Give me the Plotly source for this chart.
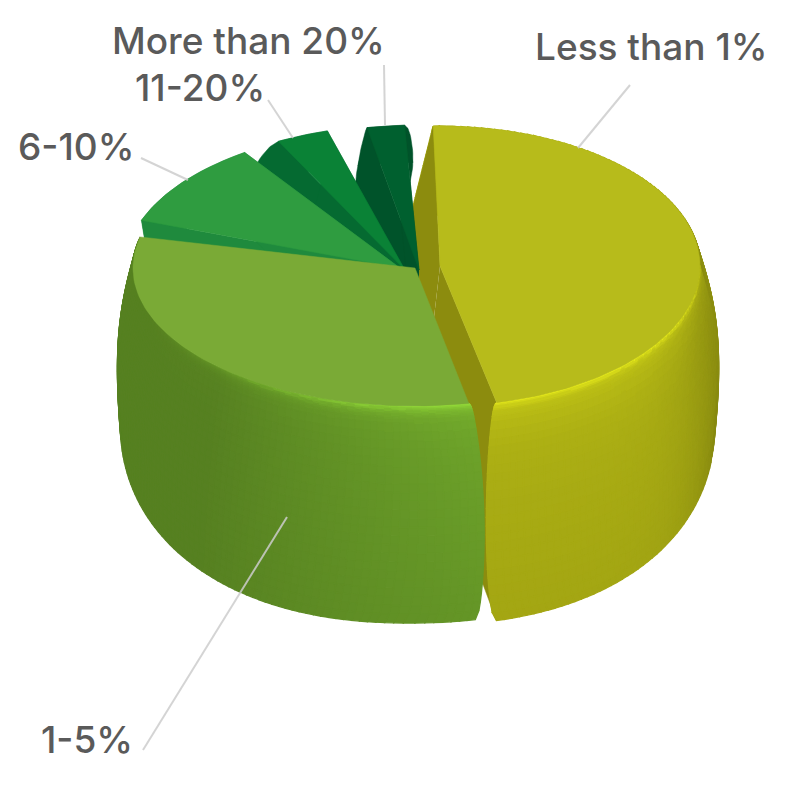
import numpy as np
import plotly.graph_objects as go

# chart data (percent of respondents)
labels = ["Less than 1%", "1-5%", "6-10%", "11-20%", "More than 20%"]
values = [46.5, 32.5, 12, 5, 4]

# look of each slice: top colour, cut face colour
top_colors = ["#b7bb1b", "#7aaa36", "#2f9c40", "#0a8236", "#00602f"]
cut_colors = ["#8c8c0e", "#5a8627", "#1f8a3d", "#056a31", "#00532a"]

# perspective of each slice: centre + radii at the top and bottom of the wall
top_cx = [440, 415, 400, 405, 419]
top_cy = [266, 268, 268, 270, 270]
top_rx = [260, 282, 275, 275, 275]
top_ry = [140, 138, 140, 145, 145]
bot_cx = [422, 410, 400, 405, 419]
bot_cy = [420, 418, 400, 400, 400]
bot_rx = [293, 290, 255, 285, 285]
bot_ry = [205, 205, 200, 200, 200]
bulge = [10, 8, 0, 6, 6]
# small angle gaps in degrees at both ends of a slice
pad_start = [-1.5, 1.6, 5.5, 5, 3.5]
pad_end = [0, 1.4, 2, 2, 3]
# how far the wall swells past those ends half way down
swell_start = [0, 2, 0, 5, 0.5]
swell_end = [2.4, 0, 0, 1, 2]

# label text position and leader line
label_x = [533, 39, 16, 133, 110]
label_y = [46, 739, 146, 87, 40]
leader_x = [[630, 578], [143, 287], [141, 188], [268, 293], [384, 385]]
leader_y = [[85, 148], [750, 517], [158, 180], [100, 138], [65, 125]]

text_color = "#5a5a5a"
leader_color = "rgba(205,205,205,0.85)"

fractions = np.array(values) / sum(values)
edges = np.concatenate([[0], np.cumsum(fractions) * 360])


def ring(i, theta, t):
    # point on the wall of slice i, theta clockwise from the back, t 0 top - 1 bottom
    a = np.radians(theta)
    p = 1 - 0.1 * t
    s = np.sign(np.sin(a)) * np.abs(np.sin(a)) ** p
    c = np.sign(np.cos(a)) * np.abs(np.cos(a)) ** p
    cx = top_cx[i] + (bot_cx[i] - top_cx[i]) * t
    cy = top_cy[i] + (bot_cy[i] - top_cy[i]) * t
    rx = top_rx[i] + (bot_rx[i] - top_rx[i]) * t + bulge[i] * np.sin(np.pi * t)
    ry = top_ry[i] + (bot_ry[i] - top_ry[i]) * t
    return cx + rx * s, cy - ry * c


def wall_point(i, u, t, start, end):
    # u runs 0-1 across the slice, the ends swell out with t
    sw = np.sqrt(np.abs(np.sin(np.pi * t)))
    a0 = start - swell_start[i] * sw
    a1 = end + swell_end[i] * sw
    return ring(i, a0 + (a1 - a0) * u, t)


def shade(i, theta, t):
    # brightness of the wall
    a = np.radians(theta)
    if i == 0:
        edge = abs(np.sin(a)) ** 10
        fade = np.clip((theta - 65) / 45, 0, 1)
        rim = np.exp(-t / 0.012) * 0.32 * fade + np.exp(-t / 0.12) * 0.12
        return [172, 175, 20], 1 + rim - 0.17 * edge - 0.05 * t
    fade = np.clip((250 - theta) / 70, 0, 1)
    light = np.clip((225 - theta) / 55, 0, 1)
    rim = np.exp(-t / 0.02) * 0.45 * fade + np.exp(-t / 0.1) * 0.1 * fade
    return [86, 128, 33], 1 + 0.28 * light * (1 - 0.4 * t) + rim


def polygon(x, y, color, width=0.5):
    return go.Scatter(x=x, y=y, mode="lines", fill="toself", fillcolor=color,
                      line=dict(color=color, width=width), hoverinfo="skip", showlegend=False)


fig = go.Figure()
t_grid = np.concatenate([np.linspace(0, 0.06, 9), np.linspace(0.08, 1, 24)])
t_wall = np.linspace(0, 1, 25)

# back to front
for i in [0, 4, 3, 2, 1]:
    start = edges[i] + pad_start[i]
    end = edges[i + 1] - pad_end[i]
    angles = np.linspace(start, end, int((end - start) / 1.5) + 2)
    u_grid = (angles - start) / (end - start)

    back = {}
    front = {}
    if i in (0, 1):
        # the wall is split in cells, one trace per shade
        for u0, u1 in zip(u_grid[:-1], u_grid[1:]):
            mid = start + (end - start) * (u0 + u1) / 2
            is_back = mid < 90 or mid > 270
            for t0, t1 in zip(t_grid[:-1], t_grid[1:]):
                base, b = shade(i, mid, 0.5 if is_back else (t0 + t1) / 2)
                rgb = [int(min(255, round(v * b))) for v in base]
                key = "rgb(%d,%d,%d)" % tuple(rgb)
                x0, y0 = wall_point(i, u0, t0, start, end)
                x1, y1 = wall_point(i, u1, t0, start, end)
                x2, y2 = wall_point(i, u1, t1, start, end)
                x3, y3 = wall_point(i, u0, t1, start, end)
                c = (back if is_back else front).setdefault(key, ([], []))
                c[0].extend([x0, x1, x2, x3, x0, None])
                c[1].extend([y0, y1, y2, y3, y0, None])
    else:
        pts_top = [wall_point(i, u, 0, start, end) for u in u_grid]
        pts_mid = [wall_point(i, u, 0.5, start, end) for u in u_grid[::-1]]
        fig.add_trace(polygon([p[0] for p in pts_top + pts_mid],
                              [p[1] for p in pts_top + pts_mid], cut_colors[i]))

    for key, (x, y) in back.items():
        fig.add_trace(polygon(x, y, key, 1.3))

    if i != 1:
        # cut faces, running from the axis out to the rim and down the wall
        for u in [0, 1]:
            pts = [wall_point(i, u, t, start, end) for t in t_wall]
            x = [top_cx[i]] + [p[0] for p in pts] + [bot_cx[i]]
            y = [top_cy[i]] + [p[1] for p in pts] + [bot_cy[i]]
            fig.add_trace(polygon(x, y, cut_colors[i]))

    for key, (x, y) in front.items():
        fig.add_trace(polygon(x, y, key, 1.3))

    # top face
    xs, ys = ring(i, angles, 0)
    fig.add_trace(polygon([top_cx[i]] + list(xs) + [top_cx[i]],
                          [top_cy[i]] + list(ys) + [top_cy[i]], top_colors[i]))

for i, name in enumerate(labels):
    fig.add_trace(go.Scatter(x=leader_x[i], y=leader_y[i], mode="lines",
                             line=dict(color=leader_color, width=2),
                             hoverinfo="skip", showlegend=False))
    fig.add_annotation(x=label_x[i], y=label_y[i], text=name, showarrow=False,
                       xanchor="left", yanchor="middle",
                       font=dict(family="Inter", size=37, weight=500, color=text_color))

fig.update_xaxes(range=[0, 800], visible=False, fixedrange=True)
fig.update_yaxes(range=[800, 0], visible=False, fixedrange=True)
fig.update_layout(width=800, height=800, margin=dict(l=0, r=0, t=0, b=0),
                  paper_bgcolor="white", plot_bgcolor="white", showlegend=False)

fig.write_html("out.html", config=dict(displayModeBar=False),
               post_script="document.body.style.margin='0';")
